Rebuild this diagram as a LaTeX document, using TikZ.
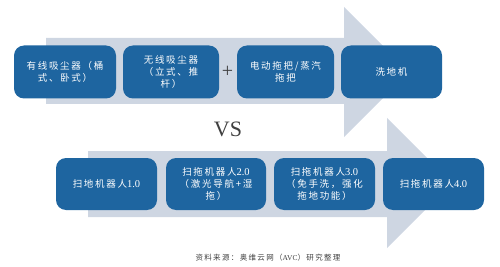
\documentclass[tikz,border=0pt]{standalone}
\usepackage{fontspec}
\setmainfont{Liberation Serif}
\newfontfamily\cjk[LetterSpace=18]{Noto Sans CJK SC}
\usepackage{tikz}
\usetikzlibrary{positioning}

\definecolor{bandgray}{RGB}{206,214,226}
\definecolor{stageblue}{RGB}{30,101,160}
\definecolor{darktext}{RGB}{64,64,64}

\newcommand{\ver}[1]{{\rmfamily\fontsize{10.5}{12.3}\selectfont #1}}

\tikzset{
  band/.style={fill=bandgray, draw=none},
  stage/.style={fill=stageblue, draw=none, rounded corners=10pt, text=white,
    align=center, inner sep=0pt, minimum height=53pt,
    font=\cjk\fontsize{9.5}{12.3}\selectfont},
}

\begin{document}
\begin{tikzpicture}[x=1pt, y=-1pt]
    \useasboundingbox (0,0) rectangle (500,267);

    % Flechas de fondo
    \fill[band] (46,38) -- (344,38) -- (344,7) -- (409,72) -- (344,137)
      -- (344,104) -- (46,104) -- cycle;
    \fill[band] (88,151) -- (387,151) -- (387,118) -- (452,183) -- (387,248)
      -- (387,217) -- (88,217) -- cycle;

    % Fila superior
    \node[stage, minimum width=102pt] (wired)  at (65,72)    {有线吸尘器（桶\\式、卧式）};
    \node[stage, minimum width=96pt]  (cordless) at (171,72) {无线吸尘器\\（立式、推\\杆）};
    \node[stage, minimum width=97pt]  (mop)    at (285.5,72) {电动拖把/蒸汽\\拖把};
    \node[stage, minimum width=101pt] (washer) at (391.5,72) {洗地机};
    \node[darktext, font=\fontsize{20}{20}\selectfont] (plus) at (227.5,72) {+};

    % VS
    \node[darktext, font=\fontsize{22}{22}\selectfont] (vs) at (228,129) {VS};

    % Fila inferior
    \node[stage, minimum width=101pt, minimum height=52pt] (robotA) at (106.5,184) {扫地机器人\ver{1.0}};
    \node[stage, minimum width=100pt, minimum height=52pt] (robotB) at (216,184)   {扫拖机器人\ver{2.0}\\（激光导航+湿\\拖）};
    \node[stage, minimum width=101pt, minimum height=52pt] (robotC) at (324.5,184) {扫拖机器人\ver{3.0}\\（免手洗，强化\\拖地功能）};
    \node[stage, minimum width=101pt, minimum height=52pt] (robotD) at (433.5,184) {扫拖机器人\ver{4.0}};

    % Fuente
    \node[darktext, font=\cjk\fontsize{7.5}{8}\selectfont] (source) at (268,258)
      {资料来源：奥维云网（{\rmfamily AVC}）研究整理};
\end{tikzpicture}
\end{document}
